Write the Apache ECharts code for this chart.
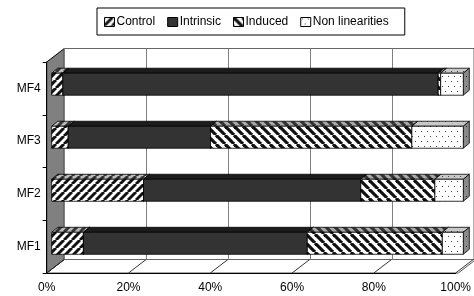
<!DOCTYPE html>
<html>
<head>
<meta charset="utf-8">
<script src="https://cdn.jsdelivr.net/npm/echarts@6/dist/echarts.min.js"></script>
<style>
  html, body { margin: 0; padding: 0; background: #fff; }
  #pic { width: 474px; height: 296px; }
</style>
</head>
<body>
<div id="pic"></div>
<script>
// values, bottom row first
var categories = ['MF1', 'MF2', 'MF3', 'MF4'];
var seriesNames = ['Control', 'Intrinsic', 'Induced', 'Non linearities'];
var control = [7.7, 22.3, 4.0, 2.7];
var intrinsic = [54.4, 52.8, 34.6, 91.2];
var induced = [32.8, 18.0, 48.9, 0.6];
var nonLin = [5.1, 6.9, 12.5, 5.5];
var xTicks = [0, 20, 40, 60, 80, 100];

// layout of the fake 3d box
var FRONT = { left: 46.7, top: 62, width: 411.6, height: 211 };
var DEPTH = [17.6, -13.5];
var BARS = { left: 51.7, top: 57.7, width: 411.6, height: 212.1 };
var BAR_DEPTH = [6, -5];
var BAR_RATIO = 0.415;

function stripes(size, dir, bg, fg, w) {
    var c = document.createElement('canvas');
    c.width = size; c.height = size;
    var ctx = c.getContext('2d');
    ctx.fillStyle = bg;
    ctx.fillRect(0, 0, size, size);
    ctx.strokeStyle = fg;
    ctx.lineWidth = w;
    for (var k = -1; k <= 1; k++) {
        ctx.beginPath();
        if (dir == '/') {
            ctx.moveTo(k * size, size);
            ctx.lineTo(k * size + size, 0);
        } else {
            ctx.moveTo(k * size, 0);
            ctx.lineTo(k * size + size, size);
        }
        ctx.stroke();
    }
    return { image: c, repeat: 'repeat' };
}

function dots(bg, fg) {
    var c = document.createElement('canvas');
    c.width = 6; c.height = 10;
    var ctx = c.getContext('2d');
    ctx.fillStyle = bg;
    ctx.fillRect(0, 0, 6, 10);
    ctx.fillStyle = fg;
    ctx.fillRect(1, 1, 1, 1);
    ctx.fillRect(4, 6, 1, 1);
    return { image: c, repeat: 'repeat' };
}

var faces = [
    { front: stripes(8, '/', '#fff', '#111', 3), top: stripes(8, '/', '#bbb', '#333', 3), side: stripes(8, '/', '#888', '#222', 3) },
    { front: '#333333', top: '#1c1c1c', side: '#222222' },
    { front: stripes(9, '\\', '#fff', '#111', 3.2), top: stripes(9, '\\', '#aaa', '#333', 3.2), side: stripes(9, '\\', '#888', '#222', 3.2) },
    { front: dots('#fff', '#444'), top: dots('#c8c8c8', '#444'), side: dots('#8a8a8a', '#222') }
];

// stack the rows: [start, end, categoryIndex]
var rowsList = [control, intrinsic, induced, nonLin];
var stacked = [];
var base = categories.map(function () { return 0; });
rowsList.map(function (arr, s) {
    var items = [];
    arr.map(function (v, i) {
        items.push([base[i], base[i] + v, i]);
        base[i] += v;
    });
    stacked.push(items);
});

function makeBar(face) {
    return function (params, api) {
        var p0 = api.coord([api.value(0), api.value(2)]);
        var p1 = api.coord([api.value(1), api.value(2)]);
        var h = api.size([0, 1])[1] * BAR_RATIO;
        var x0 = p0[0], x1 = p1[0], yt = p0[1] - h / 2, yb = p0[1] + h / 2;
        var dx = BAR_DEPTH[0], dy = BAR_DEPTH[1];
        var edge = { stroke: '#000', lineWidth: 0.8 };
        return {
            type: 'group',
            children: [
                { type: 'polygon', shape: { points: [[x0, yt], [x1, yt], [x1 + dx, yt + dy], [x0 + dx, yt + dy]] },
                  style: { fill: face.top, stroke: edge.stroke, lineWidth: edge.lineWidth } },
                { type: 'polygon', shape: { points: [[x1, yt], [x1 + dx, yt + dy], [x1 + dx, yb + dy], [x1, yb]] },
                  style: { fill: face.side, stroke: edge.stroke, lineWidth: edge.lineWidth } },
                { type: 'rect', shape: { x: x0, y: yt, width: x1 - x0, height: yb - yt },
                  style: { fill: face.front, stroke: edge.stroke, lineWidth: edge.lineWidth } }
            ]
        };
    };
}

function floorLine(params, api) {
    var p = api.coord([api.value(0), 0]);
    var cs = params.coordSys;
    var y = cs.y + cs.height;
    return {
        type: 'line',
        shape: { x1: p[0], y1: y, x2: p[0] + DEPTH[0], y2: y + DEPTH[1] },
        style: { stroke: '#333', lineWidth: 1 }
    };
}

var fl = FRONT.left, ft = FRONT.top, fb = FRONT.top + FRONT.height, fr = FRONT.left + FRONT.width;
var myChart = echarts.init(document.getElementById('pic'));

var series = [{
    name: 'floor',
    type: 'custom',
    xAxisIndex: 0, yAxisIndex: 0,
    renderItem: floorLine,
    data: xTicks.map(function (v) { return [v]; }),
    encode: { x: 0 },
    silent: true,
    z: 1
}];
seriesNames.map(function (name, s) {
    series.push({
        name: name,
        type: 'custom',
        xAxisIndex: 2, yAxisIndex: 2,
        renderItem: makeBar(faces[s]),
        itemStyle: { color: faces[s].front },
        encode: { x: [0, 1], y: 2 },
        data: stacked[s],
        z: 3
    });
});

var font = 'Arial, "Liberation Sans", sans-serif';
var option = {
    animation: false,
    textStyle: { fontFamily: font },
    legend: {
        data: seriesNames,
        left: 97, top: 8,
        icon: 'rect',
        itemWidth: 10, itemHeight: 9, itemGap: 12,
        padding: [8, 16, 7, 7],
        borderColor: '#000', borderWidth: 1,
        itemStyle: { borderColor: '#000', borderWidth: 1 },
        textStyle: { fontSize: 12, color: '#000', fontFamily: font, padding: [0, 0, 0, -3] }
    },
    graphic: [
        { type: 'polygon', z: -10,
          shape: { points: [[fl, fb], [fr, fb], [fr + DEPTH[0], fb + DEPTH[1]], [fl + DEPTH[0], fb + DEPTH[1]]] },
          style: { fill: '#fff', stroke: '#555', lineWidth: 1 } },
        { type: 'polygon', z: -10,
          shape: { points: [[fl, ft], [fl + DEPTH[0], ft + DEPTH[1]], [fl + DEPTH[0], fb + DEPTH[1]], [fl, fb]] },
          style: { fill: '#808080', stroke: '#000', lineWidth: 1 } }
    ],
    grid: [
        { left: fl, top: ft, width: FRONT.width, height: FRONT.height },
        { left: fl + DEPTH[0], top: ft + DEPTH[1], width: FRONT.width, height: FRONT.height,
          show: true, borderColor: '#666', borderWidth: 1, backgroundColor: 'transparent' },
        { left: BARS.left, top: BARS.top, width: BARS.width, height: BARS.height }
    ],
    xAxis: [
        { gridIndex: 0, type: 'value', min: 0, max: 100, interval: 20,
          axisLine: { show: true, lineStyle: { color: '#000' } },
          axisTick: { show: false }, splitLine: { show: false },
          axisLabel: { formatter: '{value}%', fontSize: 12, color: '#000', margin: 9, fontFamily: font } },
        { gridIndex: 1, type: 'value', min: 0, max: 100, interval: 20,
          axisLine: { show: false }, axisTick: { show: false }, axisLabel: { show: false },
          splitLine: { show: true, lineStyle: { color: '#808080', width: 1 } } },
        { gridIndex: 2, type: 'value', min: 0, max: 100, show: false }
    ],
    yAxis: [
        { gridIndex: 0, type: 'category', data: categories,
          axisLine: { show: true, lineStyle: { color: '#000' } },
          axisTick: { show: true, length: 4, lineStyle: { color: '#000' } },
          axisLabel: { fontSize: 12, color: '#000', margin: 6, padding: [4, 0, 0, 0], fontFamily: font } },
        { gridIndex: 1, type: 'category', data: categories, show: false },
        { gridIndex: 2, type: 'category', data: categories, show: false }
    ],
    series: series
};
myChart.setOption(option);
</script>
</body>
</html>
